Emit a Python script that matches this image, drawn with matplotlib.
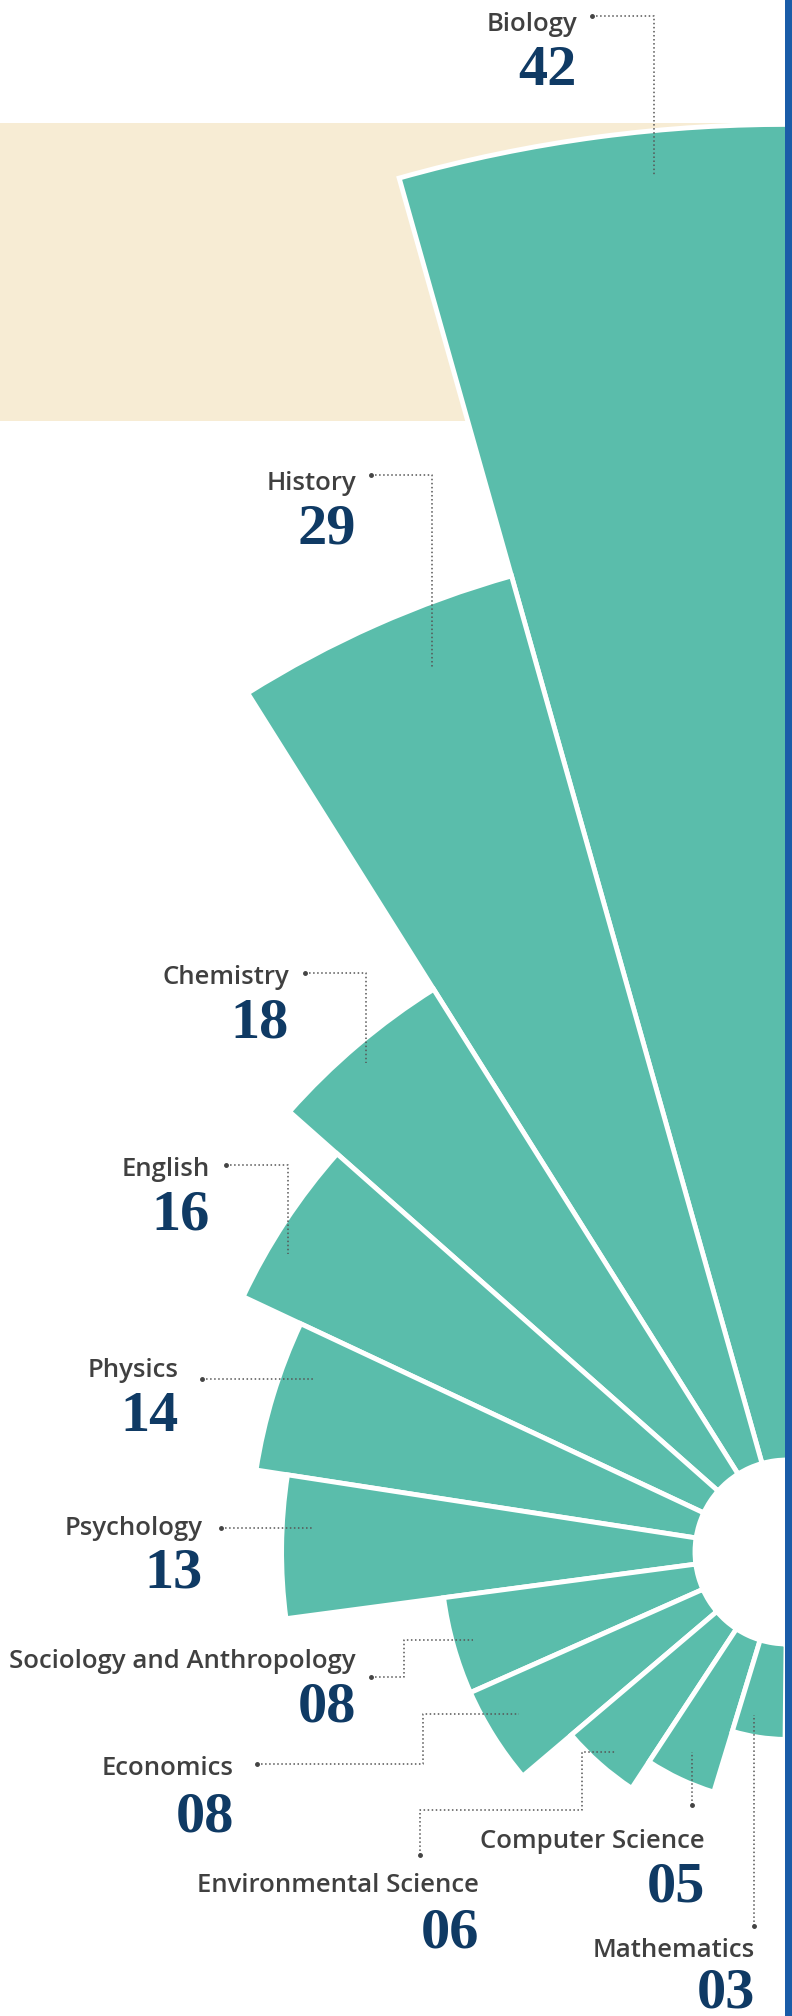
import numpy as np
import matplotlib
matplotlib.use('Agg')
import matplotlib.pyplot as plt
from matplotlib.patches import Rectangle

# data, top to bottom
subjects = ['Biology', 'History', 'Chemistry', 'English', 'Physics', 'Psychology',
            'Sociology and Anthropology', 'Economics', 'Environmental Science',
            'Computer Science', 'Mathematics']
counts = [42, 29, 18, 16, 14, 13, 8, 8, 6, 5, 3]
count_labels = ['42', '29', '18', '16', '14', '13', '08', '08', '06', '05', '03']

W, H = 792, 2016
teal = '#5abdab'
navy = '#0f3a64'
grey = '#404040'

# label layout in pixels: (right x, label baseline, number baseline, leader path)
layout = [
    (577, 31, 85, [(592, 16), (654, 16), (654, 175)]),
    (356, 490, 543, [(371, 475), (432, 475), (432, 667)]),
    (289, 984, 1038, [(305, 973), (366, 973), (366, 1063)]),
    (210, 1176, 1230, [(226, 1165), (288, 1165), (288, 1254)]),
    (179, 1377, 1431, [(202, 1379), (313, 1379)]),
    (203, 1535, 1588, [(221, 1528), (313, 1528)]),
    (356, 1668, 1722, [(371, 1677), (404, 1677), (404, 1640), (473, 1640)]),
    (234, 1775, 1832, [(257, 1764), (423, 1764), (423, 1714), (519, 1714)]),
    (479, 1892, 1947, [(420, 1855), (420, 1810), (582, 1810), (582, 1752), (615, 1752)]),
    (705, 1848, 1902, [(692, 1805), (692, 1752)]),
    (755, 1957, 2008, [(754, 1926), (754, 1715)]),
]

fig = plt.figure(figsize=(W / 100, H / 100), dpi=100)
fig.patch.set_facecolor('white')

# background band
bg = fig.add_axes([0, 0, 1, 1], zorder=0)
bg.set_xlim(0, W)
bg.set_ylim(H, 0)
bg.axis('off')
bg.add_patch(Rectangle((0, 123), 785, 298, color='#f7ecd4', lw=0))

# polar rose, centre near the right edge
cx, cy = 787, 1552
scale = 31.8          # px per unit
r0 = 92 / scale       # hole in the middle
rmax = 46
R = rmax * scale
ax = fig.add_axes([(cx - R) / W, (H - cy - R) / H, 2 * R / W, 2 * R / H],
                  projection='polar', zorder=1)
ax.set_theta_zero_location('N', offset=-0.6)
ax.set_theta_direction(1)
n = len(counts)
step = np.pi / n
theta = step * (np.arange(n) + 0.5)
ax.bar(theta, counts, width=step, bottom=r0, color=teal,
       edgecolor='white', linewidth=3.5)
ax.set_ylim(0, rmax)
ax.set_facecolor('none')
ax.grid(False)
ax.set_xticks([])
ax.set_yticks([])
ax.spines['polar'].set_visible(False)

# labels and leader lines
ov = fig.add_axes([0, 0, 1, 1], zorder=2)
ov.set_xlim(0, W)
ov.set_ylim(H, 0)
ov.axis('off')
ov.patch.set_alpha(0)
for name, lab, (rx, yb, nb, path) in zip(subjects, count_labels, layout):
    ov.text(rx, yb, name, ha='right', va='baseline', fontsize=18.5,
            family='Open Sans', weight='semibold', color=grey)
    ov.text(rx, nb, lab, ha='right', va='baseline', fontsize=42,
            family='Liberation Serif', weight='bold', color=navy)
    xs = [p[0] for p in path]
    ys = [p[1] for p in path]
    ov.plot(xs, ys, ls=':', lw=1.1, color='#555555')
    ov.plot(xs[0], ys[0], 'o', ms=2.5, color='#444444')

# strip at right edge
ov.add_patch(Rectangle((785, 0), 7, H, color='#1a5ca8', lw=0))

fig.savefig('out.png', dpi=100)
